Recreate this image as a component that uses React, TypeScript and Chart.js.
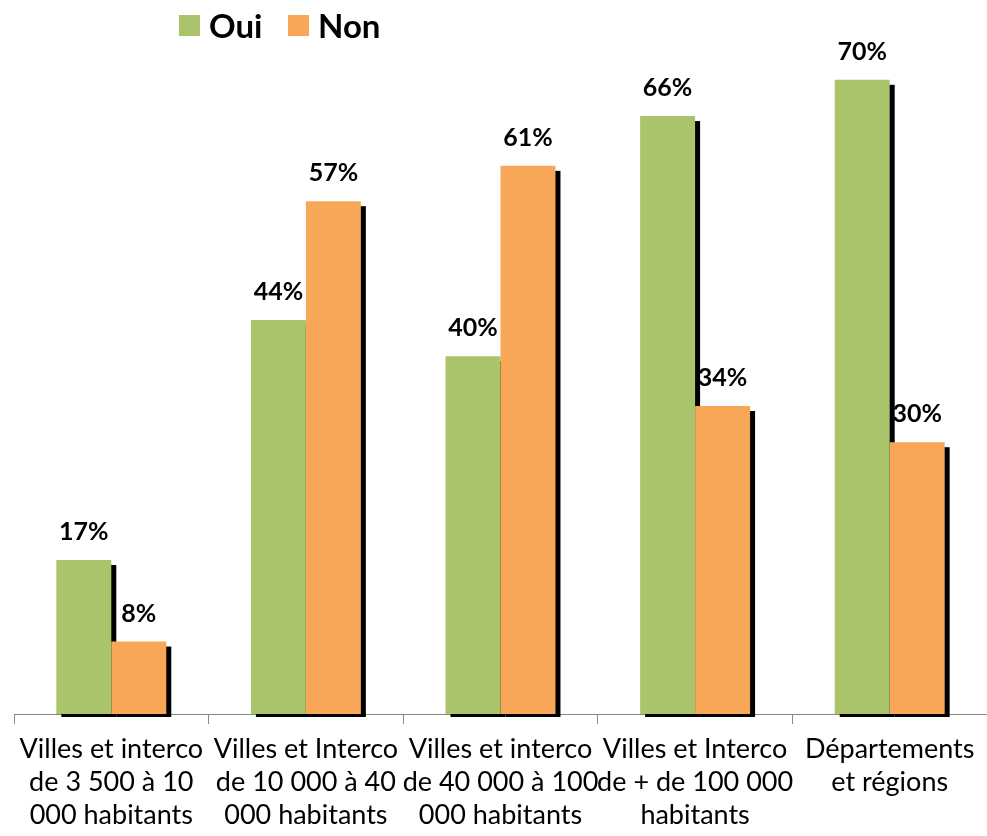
import React, { useEffect, useRef } from "react";
import { Chart, registerables } from "chart.js";

Chart.register(...registerables);

const categories: string[][] = [
  ["Villes et interco", "de 3 500 à 10", "000 habitants"],
  ["Villes et Interco", "de 10 000 à 40", "000 habitants"],
  ["Villes et interco", "de 40 000 à 100", "000 habitants"],
  ["Villes et Interco", "de + de 100 000", "habitants"],
  ["Départements", "et régions"],
];
const seriesNames = ["Oui", "Non"];
const ouiValues = [17, 43.5, 39.5, 66, 70];
const nonValues = [8, 56.6, 60.5, 34, 30];
const ouiLabels = ["17%", "44%", "40%", "66%", "70%"];
const nonLabels = ["8%", "57%", "61%", "34%", "30%"];
const colors = ["#A9C46B", "#F8A658"];

const FONT = "Lato, 'DejaVu Sans', sans-serif";

const labelsPlugin = {
  id: "labelsShadows",
  beforeDatasetsDraw(chart: any) {
    const ctx = chart.ctx;
    const all = [ouiLabels, nonLabels];
    ctx.save();
    ctx.font = `bold 25px ${FONT}`;
    ctx.fillStyle = "#000";
    ctx.textAlign = "center";
    ctx.textBaseline = "middle";
    chart.data.datasets.forEach((ds: any, di: number) => {
      const meta = chart.getDatasetMeta(di);
      meta.data.forEach((bar: any, i: number) => {
        ctx.fillText(all[di][i], bar.x, bar.y - 28);
      });
    });
    ctx.fillStyle = "#000";
    chart.data.datasets.forEach((ds: any, di: number) => {
      const meta = chart.getDatasetMeta(di);
      meta.data.forEach((bar: any) => {
        const left = bar.x - bar.width / 2;
        const top = bar.y;
        const bottom = bar.base;
        ctx.fillRect(left + 5, top + 5, bar.width, bottom - top - 2);
      });
    });
    ctx.restore();
  },
  afterDraw(chart: any) {
    const ctx = chart.ctx;
    ctx.save();
    ctx.font = `bold 33px ${FONT}`;
    ctx.textBaseline = "middle";
    ctx.textAlign = "left";
    const squares = [179, 288];
    seriesNames.forEach((name, i) => {
      ctx.fillStyle = colors[i];
      ctx.fillRect(squares[i], 15, 21, 21);
      ctx.fillStyle = "#000";
      ctx.fillText(name, squares[i] + 30, 27);
    });
    ctx.restore();
  },
};

export default function App() {
  const ref = useRef<HTMLCanvasElement>(null);
  useEffect(() => {
    document.body.style.margin = "0";
    const chart = new Chart(ref.current!, {
      type: "bar",
      data: {
        labels: categories,
        datasets: [
          { label: seriesNames[0], data: ouiValues, backgroundColor: colors[0], categoryPercentage: 0.565, barPercentage: 1 },
          { label: seriesNames[1], data: nonValues, backgroundColor: colors[1], categoryPercentage: 0.565, barPercentage: 1 },
        ],
      },
      options: {
        animation: false,
        responsive: false,
        layout: { padding: { top: 20, left: 14, right: 0, bottom: 0 } },
        plugins: { legend: { display: false }, tooltip: { enabled: false } },
        scales: {
          x: {
            afterFit(scale: any) {
              scale.height = 122;
            },
            grid: { drawOnChartArea: false, offset: true, tickLength: 10, color: "#888" },
            border: { color: "#888" },
            ticks: {
              autoSkip: false,
              maxRotation: 0,
              color: "#000",
              padding: 9,
              font: { family: FONT, size: 27, lineHeight: 33 / 27 },
            },
          },
          y: { display: false, min: 0, max: 76.6 },
        },
      },
      plugins: [labelsPlugin],
    });
    return () => chart.destroy();
  }, []);
  return (
    <div style={{ position: "absolute", left: 0, top: 0, width: 987, height: 836 }}>
      <canvas ref={ref} width={987} height={836} style={{ display: "block" }} />
    </div>
  );
}
